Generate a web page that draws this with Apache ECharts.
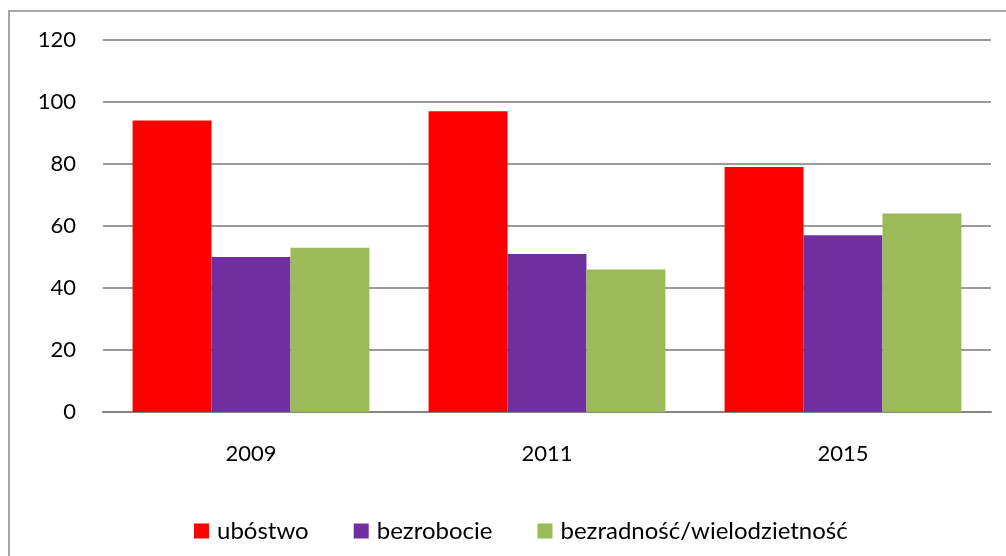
<!DOCTYPE html>
<html>
<head>
<meta charset="utf-8">
<script src="https://cdn.jsdelivr.net/npm/echarts@6/dist/echarts.min.js"></script>
<style>
  html, body { margin: 0; padding: 0; background: #fff; }
  #chart { width: 1006px; height: 556px; }
</style>
</head>
<body>
<div id="chart"></div>
<script>
const years = ['2009', '2011', '2015']
const ubostwo = [94, 97, 79]
const bezrobocie = [50, 51, 57]
const bezradnosc = [53, 46, 64]

const chart = echarts.init(document.getElementById('chart'))

const font = 'Lato, "Open Sans", sans-serif'

chart.setOption({
  animation: false,
  textStyle: { fontFamily: font },
  graphic: [
    {
      type: 'rect',
      shape: { x: 9, y: 11, width: 1020, height: 560 },
      style: { fill: 'none', stroke: '#a6a6a6', lineWidth: 2 }
    }
  ],
  grid: {
    left: 103,
    right: 15,
    top: 40,
    bottom: 144
  },
  legend: {
    left: 189,
    top: 514,
    itemWidth: 15,
    itemHeight: 15,
    itemGap: 45,
    icon: 'rect',
    textStyle: { fontSize: 24, color: '#000', fontFamily: font, padding: [0, 0, 0, 3] },
    data: ['ubóstwo', 'bezrobocie', 'bezradność/wielodzietność']
  },
  xAxis: {
    type: 'category',
    data: years,
    axisLine: { lineStyle: { color: '#868686', width: 2 } },
    axisTick: { show: false },
    axisLabel: { fontSize: 22, color: '#000', margin: 31, fontFamily: font }
  },
  yAxis: {
    type: 'value',
    min: 0,
    max: 120,
    interval: 20,
    axisLine: { show: false },
    axisTick: { show: false },
    axisLabel: { fontSize: 22, color: '#000', margin: 27, fontFamily: font },
    splitLine: { lineStyle: { color: '#9a9a9a', width: 2 } }
  },
  series: [
    {
      name: 'ubóstwo',
      type: 'bar',
      data: ubostwo,
      barGap: '0%',
      barCategoryGap: '20%',
      itemStyle: { color: '#ff0000' }
    },
    {
      name: 'bezrobocie',
      type: 'bar',
      data: bezrobocie,
      itemStyle: { color: '#7030a0' }
    },
    {
      name: 'bezradność/wielodzietność',
      type: 'bar',
      data: bezradnosc,
      itemStyle: { color: '#9bbb59' }
    }
  ]
})
</script>
</body>
</html>
